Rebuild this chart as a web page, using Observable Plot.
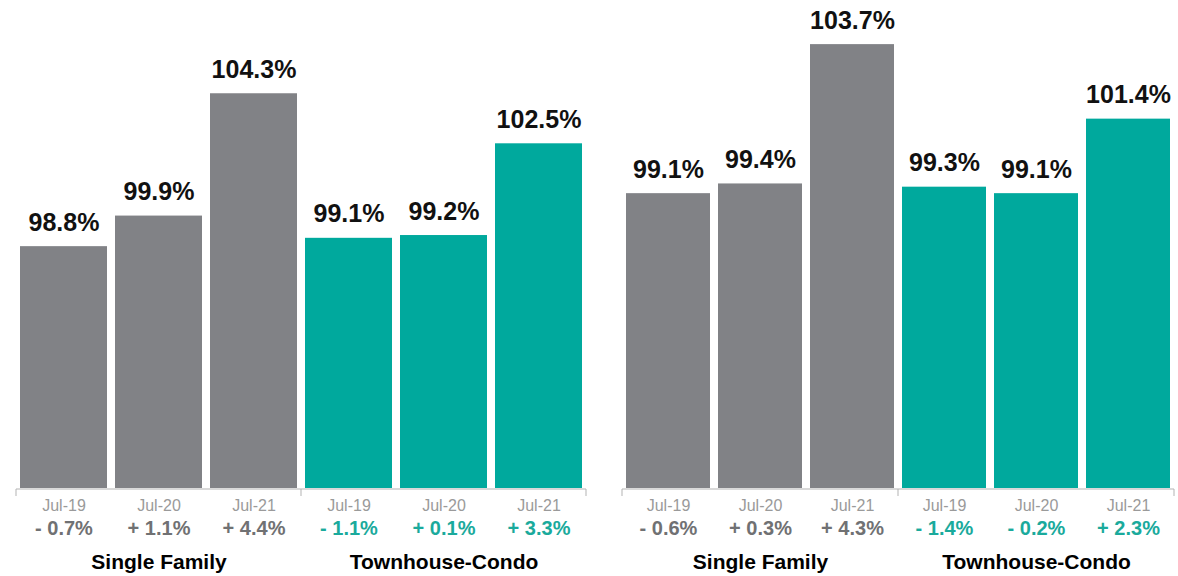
<!DOCTYPE html>
<html><head><meta charset="utf-8">
<script src="https://cdn.jsdelivr.net/npm/d3@7"></script>
<script src="https://cdn.jsdelivr.net/npm/@observablehq/plot@0.6"></script>
<style>
body{margin:0;background:#fff;}
#wrap{position:relative;width:1178px;height:576px;overflow:hidden;}
#wrap svg{position:absolute;top:0;}
</style></head><body><div id="wrap"></div>
<script>
const periods = ["Jul-19", "Jul-20", "Jul-21"];
const groups = ["Single Family", "Townhouse-Condo"];
const leftValues = [98.8, 99.9, 104.3, 99.1, 99.2, 102.5];
const leftChanges = [-0.7, 1.1, 4.4, -1.1, 0.1, 3.3];
const rightValues = [99.1, 99.4, 103.7, 99.3, 99.1, 101.4];
const rightChanges = [-0.6, 0.3, 4.3, -1.4, -0.2, 2.3];

const GRAY = "#818286", TEAL = "#00a99d";
const FONT = "Liberation Sans, Arial, Helvetica, sans-serif";

function rows(values, changes) {
  return groups.flatMap((g, gi) => periods.map((p, pi) => ({
    key: g + "|" + p, group: g, period: p,
    value: values[gi * 3 + pi], change: changes[gi * 3 + pi]
  })));
}
const fmtChange = c => (c < 0 ? "- " : "+ ") + Math.abs(c).toFixed(1) + "%";

function panel(data, o) {
  const H = 576, MB = 88;
  const plot = Plot.plot({
    width: o.width, height: H,
    marginLeft: o.ml, marginRight: o.mr, marginTop: o.mt, marginBottom: MB,
    x: {domain: data.map(d => d.key), paddingInner: 0.085, paddingOuter: o.po, axis: null},
    y: {domain: o.yDomain, clamp: true, axis: null},
    color: {domain: groups, range: [GRAY, TEAL]},
    style: {fontFamily: FONT, background: "transparent", overflow: "visible"},
    marks: [
      Plot.barY(data, {x: "key", y: "value", fill: "group"}),
      Plot.text(data, {x: "key", y: "value", text: d => d.value.toFixed(1) + "%", dy: -24,
        fontSize: 25, fontWeight: "bold", fill: "#111", lineAnchor: "middle"}),
      Plot.text(data, {x: "key", text: "period", frameAnchor: "bottom", dy: 17,
        fontSize: 16, fill: "#9a9a9a", lineAnchor: "middle"}),
      Plot.text(data.filter(d => d.group === groups[0]), {x: "key", text: d => fmtChange(d.change),
        frameAnchor: "bottom", dy: 40, fontSize: 20, fontWeight: "bold", fill: "#707173", lineAnchor: "middle"}),
      Plot.text(data.filter(d => d.group === groups[1]), {x: "key", text: d => fmtChange(d.change),
        frameAnchor: "bottom", dy: 40, fontSize: 20, fontWeight: "bold", fill: "#1aaa9c", lineAnchor: "middle"}),
      Plot.text(data.filter(d => d.period === periods[1]), {x: "key", text: "group",
        frameAnchor: "bottom", dy: 74, fontSize: 21, fontWeight: "bold", fill: "#000", lineAnchor: "middle"})
    ]
  });
  // axis baseline with group-boundary ticks, from the plot's own x scale
  const sx = plot.scale("x");
  const gap = (sx.step - sx.bandwidth) / 2;
  const y0 = H - MB + 1;
  const bounds = [];
  data.forEach((d, i) => { if (d.period === periods[0]) bounds.push(sx.apply(d.key) - gap); });
  bounds.push(sx.apply(data[data.length - 1].key) + sx.bandwidth + gap);
  const svg = d3.select(plot);
  svg.append("line").attr("x1", bounds[0]).attr("x2", bounds[bounds.length - 1])
    .attr("y1", y0).attr("y2", y0).attr("stroke", "#b3b3b3").attr("stroke-width", 1);
  svg.selectAll("line.tk").data(bounds).join("line").attr("class", "tk")
    .attr("x1", d => d).attr("x2", d => d).attr("y1", y0).attr("y2", y0 + 7)
    .attr("stroke", "#b3b3b3").attr("stroke-width", 1);
  plot.style.left = o.left + "px";
  return plot;
}

const wrap = document.getElementById("wrap");
wrap.appendChild(panel(rows(leftValues, leftChanges),
  {left: 0, width: 600, ml: 13, mr: 11.5, mt: 46, po: 0.04, yDomain: [90.1, 106]}));
wrap.appendChild(panel(rows(rightValues, rightChanges),
  {left: 600, width: 578, ml: 22, mr: 3.5, mt: 2, po: 0.045, yDomain: [90, 105]}));
</script></body></html>
